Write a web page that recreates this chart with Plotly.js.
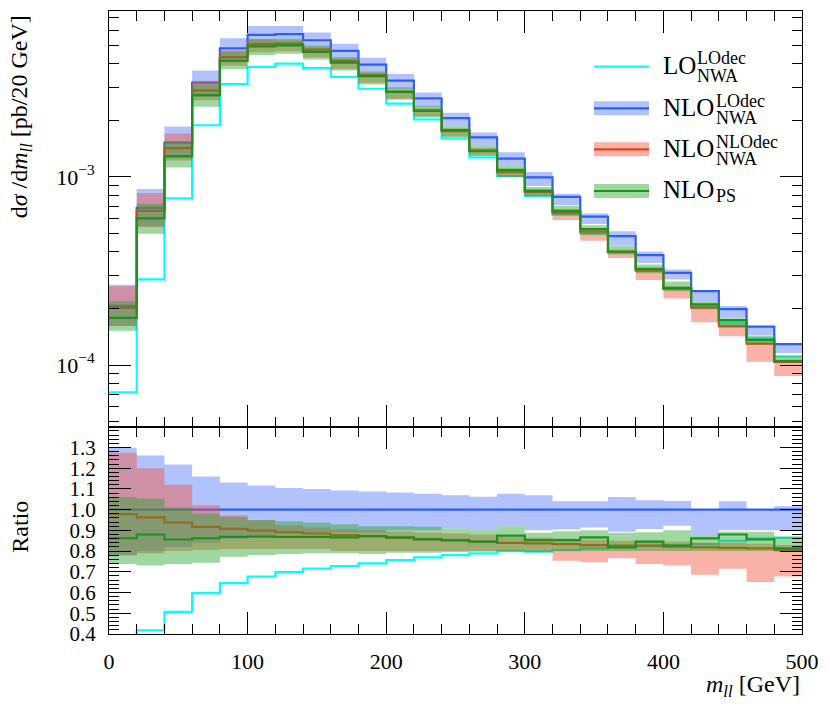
<!DOCTYPE html>
<html>
<head>
<meta charset="utf-8">
<script src="https://cdn.plot.ly/plotly-3.0.1.min.js"></script>
<style>body{margin:0;background:#fff;} #plot{width:830px;height:708px;}</style>
</head>
<body>
<div id="plot"></div>
<script>
// bin edges of m_ll, 20 GeV bins
let binEdges = [0,20,40,60,80,100,120,140,160,180,200,220,240,260,280,300,320,340,360,380,400,420,440,460,480,500];

// upper panel: dsigma/dm_ll [pb/20 GeV], one value per bin
let loNwa = [7.16e-5,2.85e-4,7.68e-4,1.88e-3,3.11e-3,3.84e-3,4.00e-3,3.78e-3,3.40e-3,2.94e-3,2.45e-3,2.02e-3,1.60e-3,1.27e-3,1.01e-3,7.93e-4,6.30e-4,4.99e-4,3.97e-4,3.19e-4,2.55e-4,2.06e-4,1.68e-4,1.38e-4,1.11e-4];
let nloLoDec = [2.06e-4,6.84e-4,1.52e-3,3.17e-3,4.82e-3,5.68e-3,5.74e-3,5.32e-3,4.67e-3,3.95e-3,3.25e-3,2.61e-3,2.05e-3,1.62e-3,1.25e-3,9.93e-4,7.83e-4,6.14e-4,4.84e-4,3.84e-4,3.09e-4,2.47e-4,1.98e-4,1.60e-4,1.29e-4];
let nloLoDecUp = [2.67e-4,8.63e-4,1.85e-3,3.68e-3,5.45e-3,6.34e-3,6.34e-3,5.85e-3,5.10e-3,4.30e-3,3.52e-3,2.81e-3,2.19e-3,1.72e-3,1.35e-3,1.06e-3,8.14e-4,6.39e-4,5.14e-4,4.01e-4,3.22e-4,2.47e-4,2.06e-4,1.60e-4,1.31e-4];
let nloLoDecDown = [1.61e-4,5.47e-4,1.25e-3,2.66e-3,4.15e-3,4.94e-3,5.05e-3,4.73e-3,4.16e-3,3.52e-3,2.93e-3,2.35e-3,1.86e-3,1.46e-3,1.15e-3,8.94e-4,7.08e-4,5.61e-4,4.32e-4,3.48e-4,2.85e-4,2.17e-4,1.78e-4,1.44e-4,1.16e-4];
let nloNloDec = [2.01e-4,6.59e-4,1.42e-3,2.88e-3,4.33e-3,5.07e-3,5.11e-3,4.75e-3,4.13e-3,3.47e-3,2.83e-3,2.24e-3,1.75e-3,1.37e-3,1.06e-3,8.29e-4,6.44e-4,5.11e-4,4.00e-4,3.17e-4,2.54e-4,2.02e-4,1.61e-4,1.30e-4,1.04e-4];
let nloNloDecUp = [2.62e-4,8.21e-4,1.70e-3,3.24e-3,4.69e-3,5.39e-3,5.31e-3,4.87e-3,4.23e-3,3.56e-3,2.91e-3,2.32e-3,1.81e-3,1.43e-3,1.09e-3,8.59e-4,6.73e-4,5.25e-4,4.11e-4,3.26e-4,2.61e-4,2.07e-4,1.66e-4,1.34e-4,1.07e-4];
let nloNloDecDown = [1.61e-4,5.40e-4,1.22e-3,2.55e-3,3.90e-3,4.60e-3,4.65e-3,4.31e-3,3.74e-3,3.16e-3,2.60e-3,2.09e-3,1.64e-3,1.30e-3,1.00e-3,7.89e-4,5.90e-4,4.58e-4,3.70e-4,2.83e-4,2.26e-4,1.69e-4,1.42e-4,1.04e-4,8.73e-5];
let nloPs = [1.78e-4,6.01e-4,1.29e-3,2.72e-3,4.13e-3,4.94e-3,5.00e-3,4.62e-3,4.05e-3,3.43e-3,2.83e-3,2.25e-3,1.77e-3,1.38e-3,1.09e-3,8.43e-4,6.59e-4,5.27e-4,4.00e-4,3.24e-4,2.57e-4,2.10e-4,1.73e-4,1.36e-4,1.05e-4];
let nloPsUp = [2.19e-4,7.20e-4,1.54e-3,3.11e-3,4.65e-3,5.40e-3,5.42e-3,4.99e-3,4.34e-3,3.63e-3,2.99e-3,2.39e-3,1.86e-3,1.46e-3,1.15e-3,8.82e-4,7.02e-4,5.53e-4,4.30e-4,3.42e-4,2.78e-4,2.17e-4,1.77e-4,1.43e-4,1.12e-4];
let nloPsDown = [1.52e-4,4.99e-4,1.12e-3,2.36e-3,3.73e-3,4.44e-3,4.51e-3,4.20e-3,3.68e-3,3.10e-3,2.57e-3,2.07e-3,1.63e-3,1.29e-3,9.98e-4,7.91e-4,6.26e-4,4.91e-4,3.87e-4,3.07e-4,2.47e-4,1.98e-4,1.58e-4,1.28e-4,1.03e-4];

// lower panel: ratio to NLO LOdec
let ratioLo = [0.348,0.418,0.507,0.597,0.645,0.677,0.699,0.715,0.728,0.741,0.757,0.770,0.781,0.789,0.800,0.797,0.805,0.813,0.820,0.825,0.828,0.834,0.850,0.861,0.864];
let ratioNloLoDec = [1,1,1,1,1,1,1,1,1,1,1,1,1,1,1,1,1,1,1,1,1,1,1,1,1];
let ratioNloLoDecUp = [1.298,1.261,1.218,1.160,1.131,1.117,1.104,1.100,1.092,1.088,1.083,1.077,1.069,1.062,1.077,1.070,1.040,1.040,1.061,1.045,1.042,1.000,1.040,1.000,1.016];
let ratioNloLoDecDown = [0.78,0.80,0.82,0.84,0.86,0.87,0.88,0.89,0.89,0.89,0.90,0.90,0.909,0.90,0.92,0.90,0.904,0.914,0.893,0.906,0.922,0.877,0.90,0.90,0.90];
let ratioNloNloDec = [0.978,0.963,0.938,0.917,0.907,0.899,0.891,0.885,0.877,0.872,0.864,0.857,0.851,0.845,0.840,0.837,0.834,0.829,0.827,0.826,0.821,0.818,0.816,0.813,0.805];
let ratioNloNloDecUp = [1.274,1.200,1.120,1.021,0.973,0.949,0.925,0.915,0.905,0.900,0.895,0.890,0.885,0.880,0.870,0.865,0.860,0.855,0.850,0.850,0.845,0.840,0.840,0.835,0.830];
let ratioNloNloDecDown = [0.78,0.79,0.80,0.805,0.81,0.81,0.81,0.81,0.80,0.80,0.80,0.80,0.80,0.80,0.80,0.795,0.754,0.746,0.765,0.738,0.731,0.686,0.715,0.651,0.677];
let ratioNloPs = [0.862,0.880,0.856,0.862,0.869,0.870,0.869,0.869,0.866,0.872,0.866,0.858,0.853,0.846,0.875,0.853,0.853,0.866,0.818,0.846,0.827,0.861,0.880,0.856,0.813];
let ratioNloPsUp = [1.061,1.053,1.010,0.980,0.965,0.950,0.944,0.938,0.930,0.920,0.920,0.917,0.909,0.900,0.920,0.888,0.896,0.900,0.888,0.891,0.900,0.877,0.893,0.893,0.870];
let ratioNloPsDown = [0.738,0.730,0.738,0.744,0.773,0.781,0.786,0.789,0.789,0.786,0.792,0.792,0.795,0.797,0.798,0.797,0.80,0.80,0.80,0.80,0.80,0.80,0.80,0.80,0.80];

let ratioTicks = [0.4,0.5,0.6,0.7,0.8,0.9,1.0,1.1,1.2,1.3];
let ratioTickText = ['0.4','0.5','0.6','0.7','0.8','0.9','1.0','1.1','1.2','1.3'];

let cCyan = '#00ffff', cBlue = '#2f5ef5', cRed = '#e0431a', cGreen = '#1f901f';
let fBlue = 'rgba(70,110,250,0.42)', fRed = 'rgba(240,85,60,0.45)', fGreen = 'rgba(45,165,45,0.45)';
let serif = 'Liberation Serif, Times New Roman, serif';

// histogram values -> step line points (last value repeated for the right edge)
function step(vals) { return vals.concat([vals[vals.length - 1]]); }

function histLine(vals, color, width, xa, ya) {
  return {x: binEdges, y: step(vals), xaxis: xa, yaxis: ya, mode: 'lines',
          line: {shape: 'hv', color: color, width: width}, hoverinfo: 'skip', showlegend: false};
}
function histBand(lo, hi, color, xa, ya) {
  return [
    {x: binEdges, y: step(lo), xaxis: xa, yaxis: ya, mode: 'lines', line: {shape: 'hv', width: 0}, hoverinfo: 'skip', showlegend: false},
    {x: binEdges, y: step(hi), xaxis: xa, yaxis: ya, mode: 'lines', line: {shape: 'hv', width: 0}, fill: 'tonexty', fillcolor: color, hoverinfo: 'skip', showlegend: false}
  ];
}

let data = [].concat(
  [histLine(loNwa, cCyan, 2.2, 'x', 'y')],
  histBand(nloLoDecDown, nloLoDecUp, fBlue, 'x', 'y'),
  [histLine(nloLoDec, cBlue, 2.2, 'x', 'y')],
  histBand(nloNloDecDown, nloNloDecUp, fRed, 'x', 'y'),
  [histLine(nloNloDec, cRed, 2.2, 'x', 'y')],
  histBand(nloPsDown, nloPsUp, fGreen, 'x', 'y'),
  [histLine(nloPs, cGreen, 2.2, 'x', 'y')],

  [histLine(ratioLo, cCyan, 2.2, 'x2', 'y2')],
  histBand(ratioNloLoDecDown, ratioNloLoDecUp, fBlue, 'x2', 'y2'),
  [histLine(ratioNloLoDec, cBlue, 2.2, 'x2', 'y2')],
  histBand(ratioNloNloDecDown, ratioNloNloDecUp, fRed, 'x2', 'y2'),
  [histLine(ratioNloNloDec, cRed, 2.2, 'x2', 'y2')],
  histBand(ratioNloPsDown, ratioNloPsUp, fGreen, 'x2', 'y2'),
  [histLine(ratioNloPs, cGreen, 2.2, 'x2', 'y2')]
);

let tickFont = {family: serif, size: 22, color: 'black'};
let split = 0.3327;

let xCommon = {
  range: [0, 500], dtick: 100, tick0: 0, ticks: 'inside', ticklen: 22, tickwidth: 1, tickcolor: 'black',
  showline: true, linecolor: 'black', linewidth: 1, mirror: 'allticks', showgrid: false, zeroline: false,
  minor: {dtick: 20, ticks: 'inside', ticklen: 10, tickwidth: 1, tickcolor: 'black', showgrid: false},
  tickfont: tickFont
};

let layout = {
  width: 830, height: 708,
  margin: {l: 109, r: 28, t: 11, b: 74},
  paper_bgcolor: 'white', plot_bgcolor: 'white',
  font: {family: serif, color: 'black'},
  showlegend: false,
  xaxis: Object.assign({}, xCommon, {domain: [0, 1], anchor: 'y', showticklabels: false, matches: 'x2'}),
  yaxis: {
    domain: [split, 1], anchor: 'x', type: 'log', range: [-4.328, -2.1185],
    tickvals: [1e-4, 1e-3], ticktext: ['10<sup>\u22124</sup>', '10<sup>\u22123</sup>'],
    ticks: 'inside', ticklen: 22, tickwidth: 1, tickcolor: 'black', ticklabelstandoff: 9,
    minor: {tickvals: [5e-5,6e-5,7e-5,8e-5,9e-5,2e-4,3e-4,4e-4,5e-4,6e-4,7e-4,8e-4,9e-4,2e-3,3e-3,4e-3,5e-3,6e-3,7e-3],
            ticks: 'inside', ticklen: 10, tickwidth: 1, tickcolor: 'black', showgrid: false},
    showline: true, linecolor: 'black', linewidth: 1, mirror: 'allticks', showgrid: false, zeroline: false,
    tickfont: tickFont
  },
  xaxis2: Object.assign({}, xCommon, {domain: [0, 1], anchor: 'y2', showticklabels: true, ticklabelstandoff: 8}),
  yaxis2: {
    domain: [0, split], anchor: 'x2', range: [0.4, 1.4],
    tickvals: ratioTicks, ticktext: ratioTickText,
    ticks: 'inside', ticklen: 22, tickwidth: 1, tickcolor: 'black', ticklabelstandoff: 8,
    minor: {dtick: 0.02, tick0: 0.4, ticks: 'inside', ticklen: 10, tickwidth: 1, tickcolor: 'black', showgrid: false},
    showline: true, linecolor: 'black', linewidth: 1, mirror: 'allticks', showgrid: false, zeroline: false,
    tickfont: {family: serif, size: 21, color: 'black'}
  },
  annotations: [],
  shapes: []
};

// axis labels, Rivet style: y label flush with the top, x label flush with the right
let labelFont = {family: serif, size: 24, color: 'black'};
layout.annotations.push(
  {text: 'd<i>\u03c3</i> /d<i>m</i><sub><i>ll</i></sub> [pb/20 GeV]', xref: 'paper', yref: 'paper', x: -0.127, y: 0.997,
   xanchor: 'center', yanchor: 'top', textangle: -90, showarrow: false, font: labelFont},
  {text: 'Ratio', xref: 'paper', yref: 'paper', x: -0.129, y: 0.1717,
   xanchor: 'center', yanchor: 'middle', textangle: -90, showarrow: false, font: labelFont},
  {text: '<i>m</i><sub><i>ll</i></sub> [GeV]', xref: 'paper', yref: 'paper', x: 1, y: -0.0835,
   xanchor: 'right', yanchor: 'middle', showarrow: false, font: labelFont}
);

// legend: swatches and stacked super/subscripts
let legendRows = [
  {main: 'LO', sup: 'LOdec', sub: 'NWA', line: cCyan, fill: null, y: 0.9106, ty: 0.9125, supY: 0.9240, subY: 0.8950, sx: 0.8456},
  {main: 'NLO', sup: 'LOdec', sub: 'NWA', line: cBlue, fill: fBlue, y: 0.8438, ty: 0.8459, supY: 0.8554, subY: 0.8284, sx: 0.8730},
  {main: 'NLO', sup: 'NLOdec', sub: 'NWA', line: cRed, fill: fRed, y: 0.7780, ty: 0.7790, supY: 0.7891, subY: 0.7622, sx: 0.8730},
  {main: 'NLO', sup: '', sub: 'PS', line: cGreen, fill: fGreen, y: 0.7111, ty: 0.7127, supY: 0, subY: 0.7030, sx: 0.8730}
];
legendRows.forEach(r => {
  if (r.fill) {
    layout.shapes.push({type: 'rect', xref: 'paper', yref: 'paper', x0: 0.6999, x1: 0.7792,
      y0: r.y - 0.0112, y1: r.y + 0.0112, fillcolor: r.fill, line: {width: 0}});
  }
  layout.shapes.push({type: 'line', xref: 'paper', yref: 'paper', x0: 0.6999, x1: 0.7792, y0: r.y, y1: r.y,
    line: {color: r.line, width: 2.2}});
  layout.annotations.push({text: r.main, xref: 'paper', yref: 'paper', x: 0.7965, y: r.ty, xanchor: 'left', yanchor: 'middle',
    showarrow: false, font: {family: serif, size: 25, color: 'black'}});
  if (r.sup) {
    layout.annotations.push({text: r.sup, xref: 'paper', yref: 'paper', x: r.sx, y: r.supY, xanchor: 'left', yanchor: 'middle',
      showarrow: false, font: {family: serif, size: 18, color: 'black'}});
  }
  layout.annotations.push({text: r.sub, xref: 'paper', yref: 'paper', x: r.sx, y: r.subY, xanchor: 'left', yanchor: 'middle',
    showarrow: false, font: {family: serif, size: 18, color: 'black'}});
});

Plotly.newPlot('plot', data, layout, {displayModeBar: false, staticPlot: true});
</script>
</body>
</html>
